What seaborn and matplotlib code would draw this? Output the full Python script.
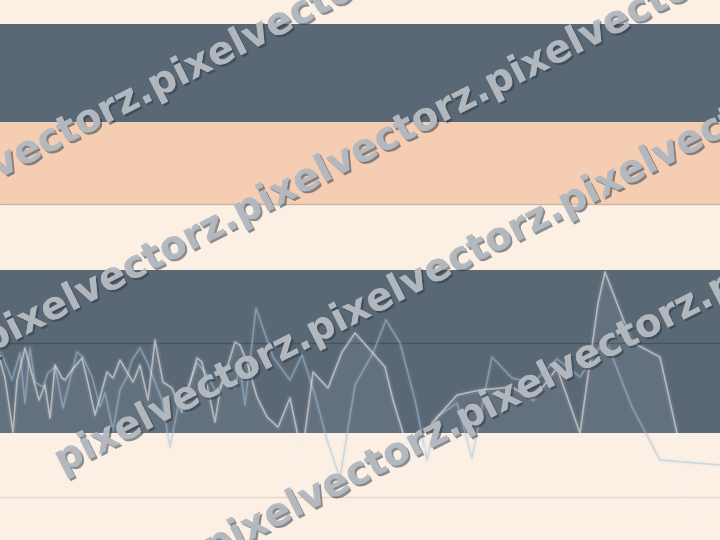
import numpy as np
import pandas as pd
import matplotlib
matplotlib.use("Agg")
import matplotlib.pyplot as plt
import matplotlib.patheffects as pe
import seaborn as sns

# ---- data ----
band_edges = [0, 107, 270, 336, 418, 516, 540]
band_colors = ["#FCF0E5", "#5A6876", "#FCF0E5", "#F5CDB2", "#5A6876", "#FCF0E5"]
ref_levels = [336, 197, 43]
ref_colors = ["#C9B5A6", "#46525E", "#E3D6CC"]

white_x = [0, 5, 13, 17, 25, 33, 39, 45, 50, 55,
           62, 65, 72, 82, 88, 95, 107, 113, 120, 133,
           140, 148, 155, 163, 172, 182, 197, 202, 215, 220,
           235, 240, 247, 257, 267, 278, 290, 302, 313, 328,
           342, 355, 372, 385, 393, 403, 418, 432, 457, 480,
           512, 533, 557, 580, 598, 605, 632, 660, 677, 690,
           705]
white_y = [180, 162, 108, 160, 192, 162, 140, 155, 122, 175,
           162, 160, 170, 182, 157, 125, 168, 162, 180, 158,
           175, 140, 200, 158, 152, 128, 182, 178, 118, 150,
           198, 195, 178, 143, 123, 113, 142, 85, 168, 152,
           188, 207, 188, 173, 140, 107, 65, 117, 145, 150,
           153, 140, 172, 107, 237, 268, 198, 183, 107, 20,
           -20]

blue_x = [0, 3, 12, 20, 25, 30, 35, 43, 48, 55,
          63, 77, 83, 92, 100, 105, 113, 120, 127, 132,
          140, 147, 153, 162, 170, 178, 188, 197, 205, 217,
          223, 235, 240, 245, 256, 273, 290, 302, 315, 327,
          340, 355, 373, 386, 400, 415, 427, 437, 457, 472,
          480, 492, 512, 533, 557, 580, 600, 605, 632, 660,
          720]
blue_y = [188, 183, 160, 187, 137, 192, 158, 153, 167, 173,
          132, 188, 183, 163, 133, 147, 110, 150, 163, 180,
          192, 178, 163, 140, 93, 133, 153, 177, 168, 147,
          160, 152, 173, 135, 232, 183, 160, 185, 145, 100,
          62, 155, 187, 220, 197, 140, 80, 123, 137, 82,
          123, 183, 162, 157, 181, 163, 193, 202, 133, 80,
          75]

watermark = "pixelvectorz."

# ---- figure ----
sns.set_theme(style="white")
fig = plt.figure(figsize=(7.2, 5.4), dpi=100)
ax = fig.add_axes([0, 0, 1, 1])
ax.set_xlim(0, 720)
ax.set_ylim(0, 540)
ax.axis("off")

for lo, hi, c in zip(band_edges[:-1], band_edges[1:], band_colors):
    ax.axhspan(lo, hi, color=c, lw=0, zorder=0)
for lvl, c in zip(ref_levels, ref_colors):
    ax.axhline(lvl, color=c, lw=1, zorder=1)

wx = np.array(white_x, float)
wy = np.array(white_y, float)
ax.fill_between(wx, wy, band_edges[1], where=wy > band_edges[1], interpolate=True,
                color="white", alpha=0.06, lw=0, zorder=2)

df_w = pd.DataFrame({"x": white_x, "y": white_y})
df_b = pd.DataFrame({"x": blue_x, "y": blue_y})
for df, col, a in [(df_b, "#A8C3D8", 0.5), (df_w, "#F4F0EC", 0.55)]:
    sns.lineplot(data=df, x="x", y="y", ax=ax, color=col, lw=4, alpha=0.08,
                 estimator=None, sort=False, zorder=3)
    sns.lineplot(data=df, x="x", y="y", ax=ax, color=col, lw=1.2, alpha=a,
                 estimator=None, sort=False, zorder=4)

# watermark
ang = 27
rad = np.deg2rad(ang)
for c0, x0 in [(178, -600), (348, -515), (505, 62), (668, -40)]:
    ys = c0 - np.tan(rad) * x0
    fig.text(x0 / 720, 1 - ys / 540, watermark * 6, rotation=ang, rotation_mode="anchor",
             ha="left", va="baseline", fontsize=28, fontweight="bold",
             family="DejaVu Sans", color="#B4BAC0", alpha=0.85, zorder=10,
             path_effects=[pe.withSimplePatchShadow(offset=(1.5, -1.5),
                                                     shadow_rgbFace="#2E3A45", alpha=0.55),
                           pe.Normal()])

fig.savefig("out.png", dpi=100)
